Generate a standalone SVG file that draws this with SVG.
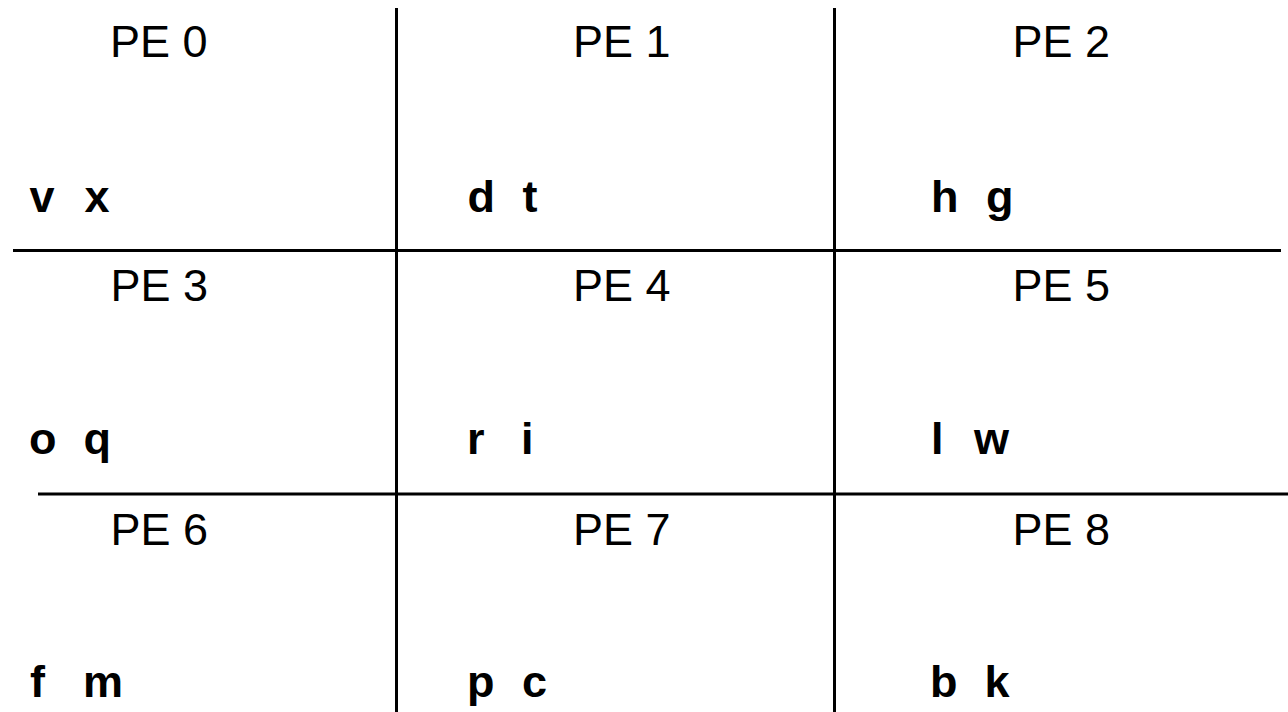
<svg xmlns="http://www.w3.org/2000/svg" width="1288" height="712" viewBox="0 0 1288 712">
<style>
.pe{font-family:"Liberation Sans",Arial,sans-serif;font-size:45px;fill:#000}
.v{font-family:"Liberation Sans",Arial,sans-serif;font-size:45px;font-weight:bold;fill:#000}
.ln{stroke:#000;stroke-width:3;fill:none}
</style>
<rect width="1288" height="712" fill="#fff"/>
<g id="connectors">
<line class="ln" x1="396.5" y1="8" x2="396.5" y2="712"/>
<line class="ln" x1="834.5" y1="8" x2="834.5" y2="712"/>
<line class="ln" x1="13" y1="250.5" x2="1281" y2="250.5"/>
<line class="ln" x1="38" y1="494" x2="1288" y2="494"/>
</g>
<g id="pe0"><text class="pe" x="110" y="57">PE 0</text><text class="v" y="211.5"><tspan x="29.5">v</tspan><tspan x="84.5">x</tspan></text></g>
<g id="pe1"><text class="pe" x="573" y="57">PE 1</text><text class="v" y="211.5"><tspan x="467.5">d</tspan><tspan x="522.5">t</tspan></text></g>
<g id="pe2"><text class="pe" x="1012.5" y="57">PE 2</text><text class="v" y="211.5"><tspan x="931">h</tspan><tspan x="986">g</tspan></text></g>
<g id="pe3"><text class="pe" x="110.5" y="300.5">PE 3</text><text class="v" y="454"><tspan x="29">o</tspan><tspan x="83.5">q</tspan></text></g>
<g id="pe4"><text class="pe" x="573" y="300.5">PE 4</text><text class="v" y="454"><tspan x="467">r</tspan><tspan x="521">i</tspan></text></g>
<g id="pe5"><text class="pe" x="1012.5" y="300.5">PE 5</text><text class="v" y="454"><tspan x="931">l</tspan><tspan x="974">w</tspan></text></g>
<g id="pe6"><text class="pe" x="110.5" y="545">PE 6</text><text class="v" y="697"><tspan x="30">f</tspan><tspan x="83">m</tspan></text></g>
<g id="pe7"><text class="pe" x="573" y="545">PE 7</text><text class="v" y="697"><tspan x="467">p</tspan><tspan x="522">c</tspan></text></g>
<g id="pe8"><text class="pe" x="1012.5" y="545">PE 8</text><text class="v" y="697"><tspan x="930">b</tspan><tspan x="984.5">k</tspan></text></g>
</svg>
